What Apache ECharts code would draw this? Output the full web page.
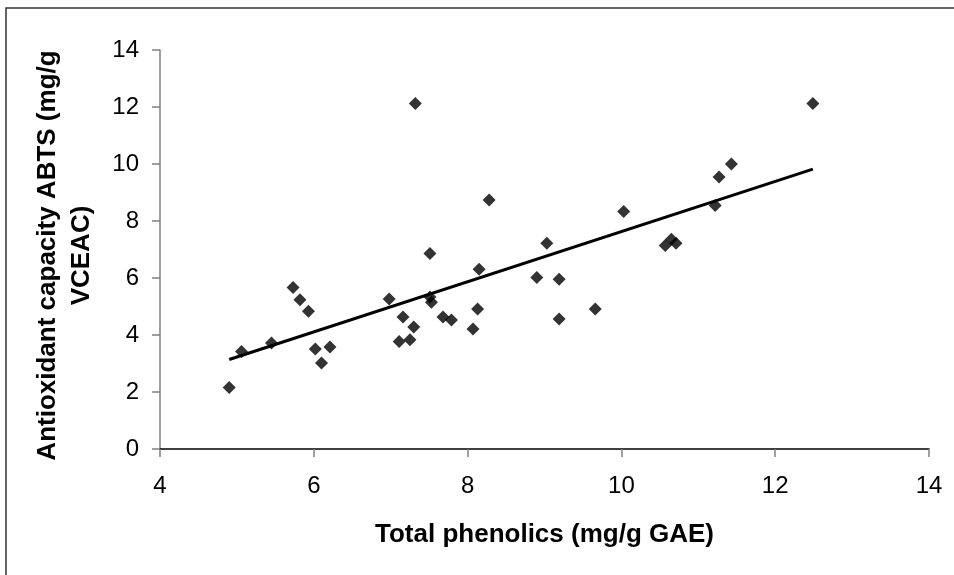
<!DOCTYPE html>
<html>
<head>
<meta charset="utf-8">
<script src="https://cdn.jsdelivr.net/npm/echarts@6/dist/echarts.min.js"></script>
<style>
html,body{margin:0;padding:0;background:#fff;}
#chart{width:954px;height:575px;}
</style>
</head>
<body>
<div id="chart"></div>
<script>
// Total phenolics (mg/g GAE)
const phenolics = [4.90, 5.06, 5.45, 5.73, 5.82, 5.93, 6.02, 6.10, 6.21, 6.98, 7.16, 7.11, 7.25, 7.30, 7.32, 7.51, 7.51, 7.53, 7.68, 7.79, 8.07, 8.13, 8.15, 8.28, 8.90, 9.03, 9.19, 9.19, 9.66, 10.03, 10.57, 10.65, 10.71, 11.22, 11.27, 11.43, 12.49];
// Antioxidant capacity ABTS (mg/g VCEAC)
const abts = [2.16, 3.42, 3.72, 5.67, 5.24, 4.83, 3.51, 3.02, 3.58, 5.26, 4.63, 3.77, 3.83, 4.28, 12.12, 6.86, 5.33, 5.15, 4.63, 4.53, 4.21, 4.91, 6.31, 8.74, 6.02, 7.22, 5.96, 4.56, 4.91, 8.33, 7.14, 7.36, 7.22, 8.54, 9.54, 10.0, 12.12];
// Linear trend line end points
const trendX = [4.90, 12.49];
const trendY = [3.14, 9.82];
const xTicks = [4, 6, 8, 10, 12, 14];
const yTicks = [0, 2, 4, 6, 8, 10, 12, 14];

const points = phenolics.map((x, i) => [x, abts[i]]);
const trend = trendX.map((x, i) => [x, trendY[i]]);

const chart = echarts.init(document.getElementById('chart'), null, {renderer: 'canvas'});
const font = "'Liberation Sans', Arial, sans-serif";
chart.setOption({
  animation: false,
  backgroundColor: '#fff',
  graphic: [{
    type: 'rect',
    shape: {x: 6, y: 8, width: 1000, height: 1000},
    style: {fill: 'none', stroke: '#333', lineWidth: 1.5},
    z: 0
  }],
  grid: {left: 160, right: 25, top: 50, bottom: 126, containLabel: false, outerBoundsMode: 'none'},
  xAxis: {
    type: 'value',
    min: xTicks[0], max: xTicks[xTicks.length - 1], interval: 2,
    name: 'Total phenolics (mg/g GAE)',
    nameLocation: 'middle',
    nameGap: 73,
    nameTextStyle: {fontFamily: font, fontSize: 26, fontWeight: 'bold', color: '#000'},
    axisLine: {show: true, onZero: false, lineStyle: {color: '#000', width: 1.5}},
    axisTick: {show: true, length: 8, lineStyle: {color: '#808080', width: 1.5}},
    axisLabel: {fontFamily: font, fontSize: 24, color: '#000', margin: 25},
    splitLine: {show: false}
  },
  yAxis: {
    type: 'value',
    min: yTicks[0], max: yTicks[yTicks.length - 1], interval: 2,
    name: 'Antioxidant capacity ABTS (mg/g\nVCEAC)',
    nameLocation: 'middle',
    nameGap: 61,
    nameRotate: 90,
    nameTextStyle: {fontFamily: font, fontSize: 26, fontWeight: 'bold', color: '#000', lineHeight: 34, align: 'center', padding: [0, 12, 0, 0]},
    axisLine: {show: true, lineStyle: {color: '#808080', width: 1.5}},
    axisTick: {show: true, length: 8, lineStyle: {color: '#808080', width: 1.5}},
    axisLabel: {fontFamily: font, fontSize: 24, color: '#000', margin: 21},
    splitLine: {show: false}
  },
  series: [{
    type: 'scatter',
    data: points,
    symbol: 'diamond',
    symbolSize: 13,
    itemStyle: {color: '#000'},
    z: 3
  }, {
    type: 'line',
    data: trend,
    symbol: 'none',
    lineStyle: {color: '#000', width: 3},
    z: 2
  }]
});
</script>
</body>
</html>
